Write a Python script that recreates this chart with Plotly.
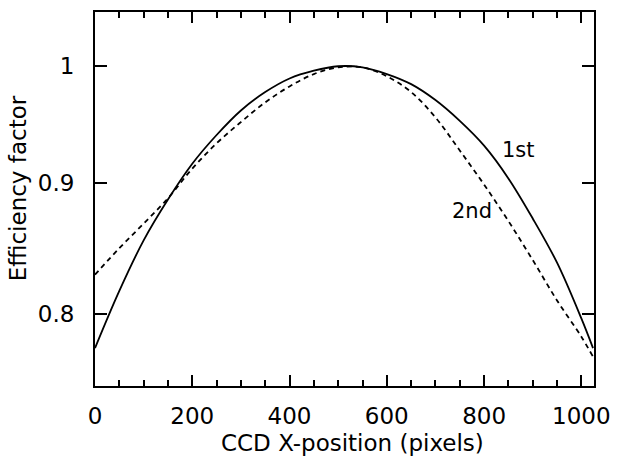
import math
import plotly.graph_objects as go

# CCD x-position (pixels)
x_pos = [0, 50, 100, 150, 200, 250, 300, 350, 400, 450, 500, 550, 600, 650, 700, 750, 800, 850, 900, 950, 1000, 1024]
# efficiency factor, 1st order (solid)
eff_1st = [0.776, 0.817, 0.855, 0.887, 0.916, 0.940, 0.961, 0.977, 0.989, 0.996, 1.000, 0.999, 0.993, 0.984, 0.970, 0.952, 0.931, 0.904, 0.872, 0.838, 0.797, 0.776]
# efficiency factor, 2nd order (dashed)
eff_2nd = [0.829, 0.849, 0.868, 0.888, 0.912, 0.933, 0.951, 0.968, 0.982, 0.993, 0.999, 0.999, 0.991, 0.977, 0.955, 0.927, 0.899, 0.870, 0.840, 0.810, 0.784, 0.770]

x_ticks = [0, 200, 400, 600, 800, 1000]
y_ticks = [0.8, 0.9, 1.0]
y_ticktext = ["0.8", "0.9", "1"]

FONT = "DejaVu Sans"

fig = go.Figure()
fig.add_trace(go.Scatter(x=x_pos, y=eff_1st, mode="lines", line=dict(color="black", width=1.8, shape="spline"), showlegend=False))
fig.add_trace(go.Scatter(x=x_pos, y=eff_2nd, mode="lines", line=dict(color="black", width=1.8, dash="5px,4px", shape="spline"), showlegend=False))

fig.add_annotation(x=870, y=math.log10(0.927), text="1st", showarrow=False, font=dict(family=FONT, size=21, color="black"))
fig.add_annotation(x=776, y=math.log10(0.878), text="2nd", showarrow=False, font=dict(family=FONT, size=21, color="black"))

fig.add_annotation(xref="paper", yref="paper", x=-0.154, y=0.529, text="Efficiency factor", textangle=-90,
                   showarrow=False, xanchor="center", yanchor="middle", borderpad=0,
                   font=dict(family=FONT, size=23, color="black"))
fig.add_annotation(xref="paper", yref="paper", x=0.517, y=-0.152, text="CCD X-position (pixels)",
                   showarrow=False, xanchor="center", yanchor="middle", borderpad=0,
                   font=dict(family=FONT, size=23, color="black"))

fig.update_layout(
    width=620, height=457,
    margin=dict(l=95, r=20, t=10, b=71),
    paper_bgcolor="white", plot_bgcolor="white",
    font=dict(family=FONT, color="black"),
    xaxis=dict(range=[0, 1026], tickvals=x_ticks, ticks="inside", ticklen=11, tickwidth=1.5, tickcolor="black",
               showline=True, linecolor="black", linewidth=2, mirror="allticks", showgrid=False, zeroline=False,
               tickfont=dict(family=FONT, size=23, color="black"), ticklabelstandoff=8,
               minor=dict(dtick=50, ticks="inside", ticklen=6, tickwidth=1.5, tickcolor="black", showgrid=False)),
    yaxis=dict(type="log", range=[math.log10(0.75), math.log10(1.05)], tickvals=y_ticks, ticktext=y_ticktext,
               ticks="inside", ticklen=12, tickwidth=1.5, tickcolor="black",
               showline=True, linecolor="black", linewidth=2, mirror="allticks", showgrid=False, zeroline=False,
               tickfont=dict(family=FONT, size=23, color="black"), ticklabelstandoff=14),
)

fig.write_html("out.html", config={"displayModeBar": False},
               post_script="document.body.style.margin='0';document.body.style.overflow='hidden';")
